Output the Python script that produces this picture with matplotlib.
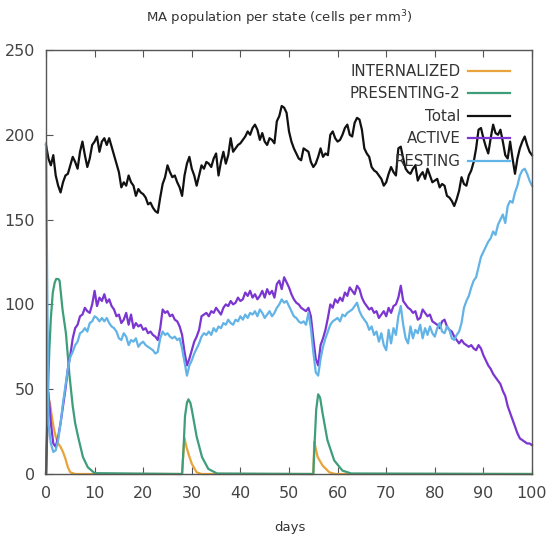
import numpy as np
import matplotlib
matplotlib.use("Agg")
import matplotlib.pyplot as plt

# -- data (0.5 day steps) -- #
days = np.arange(0, 100.5, 0.5)

total = [194, 186, 182, 188, 176, 170, 166, 172, 176, 177, 182, 187, 184, 180, 190, 196, 188, 181, 186, 194,
         196, 199, 190, 196, 198, 194, 198, 193, 188, 183, 178, 169, 172, 170, 176, 172, 170, 164, 168, 166,
         165, 163, 159, 160, 157, 155, 154, 163, 171, 175, 182, 178, 175, 176, 172, 169, 164, 176, 183, 187,
         180, 176, 170, 176, 182, 180, 184, 183, 181, 186, 189, 176, 184, 190, 183, 188, 198, 190, 192, 194,
         195, 197, 199, 202, 200, 204, 206, 203, 197, 201, 196, 194, 198, 197, 195, 208, 211, 217, 216, 213,
         202, 196, 192, 189, 186, 185, 192, 191, 190, 184, 181, 183, 187, 192, 187, 189, 188, 200, 202, 198,
         196, 197, 200, 204, 206, 200, 199, 207, 210, 209, 203, 192, 189, 187, 181, 179, 178, 176, 174, 170,
         172, 177, 181, 178, 176, 192, 193, 186, 180, 178, 177, 180, 182, 173, 176, 178, 174, 180, 176, 172,
         173, 174, 169, 171, 170, 164, 163, 161, 158, 162, 167, 175, 171, 170, 176, 179, 184, 192, 203, 204,
         198, 193, 189, 198, 206, 201, 200, 203, 196, 188, 186, 196, 186, 177, 186, 192, 196, 199, 194, 190,
         188]

active = [0, 48, 30, 18, 16, 22, 30, 40, 50, 62, 70, 80, 86, 88, 93, 94, 98, 96, 95, 100,
          108, 99, 104, 102, 106, 101, 103, 99, 97, 93, 94, 89, 91, 95, 88, 94, 86, 89, 87, 88,
          85, 86, 83, 84, 82, 81, 79, 86, 97, 95, 96, 93, 94, 91, 90, 87, 82, 72, 64, 68,
          73, 78, 81, 85, 93, 94, 95, 93, 96, 95, 98, 96, 94, 98, 100, 99, 102, 100, 101, 104,
          102, 103, 107, 105, 108, 104, 106, 103, 105, 108, 104, 109, 106, 108, 104, 112, 114, 109, 116, 113,
          110, 106, 103, 101, 100, 98, 97, 96, 98, 93, 80, 68, 64, 76, 80, 85, 92, 100, 98, 103,
          101, 104, 102, 107, 105, 110, 108, 106, 111, 109, 104, 101, 99, 97, 98, 95, 96, 92, 94, 96,
          93, 98, 95, 99, 100, 104, 111, 102, 100, 98, 97, 95, 96, 91, 92, 97, 95, 93, 94, 90,
          89, 88, 86, 90, 91, 87, 85, 84, 81, 79, 77, 79, 77, 76, 75, 76, 74, 73, 76, 74,
          70, 67, 64, 62, 59, 57, 55, 53, 49, 46, 40, 36, 32, 28, 24, 21, 20, 19, 18, 18,
          17]

resting = [195, 30, 18, 13, 14, 20, 30, 42, 52, 62, 69, 72, 76, 78, 83, 84, 86, 84, 89, 90,
           93, 92, 90, 92, 90, 92, 89, 87, 86, 84, 80, 79, 83, 81, 76, 79, 78, 80, 75, 77,
           78, 76, 75, 74, 73, 71, 72, 80, 84, 82, 83, 81, 80, 81, 79, 80, 74, 66, 58, 64,
           67, 71, 74, 77, 81, 83, 82, 84, 82, 86, 84, 87, 86, 89, 88, 91, 89, 88, 91, 90,
           93, 91, 94, 92, 95, 94, 96, 93, 97, 95, 92, 94, 96, 93, 95, 98, 100, 103, 101, 102,
           99, 96, 93, 92, 90, 89, 90, 88, 95, 86, 72, 60, 58, 68, 75, 80, 84, 88, 90, 91,
           92, 90, 94, 93, 95, 96, 97, 99, 101, 96, 93, 91, 89, 85, 87, 82, 84, 78, 83, 76,
           73, 85, 77, 86, 82, 93, 99, 88, 80, 77, 87, 80, 85, 83, 88, 80, 86, 82, 87, 83,
           81, 86, 89, 84, 83, 87, 85, 80, 79, 82, 84, 89, 98, 102, 105, 110, 114, 116, 122, 128,
           131, 134, 137, 139, 143, 141, 147, 150, 153, 148, 158, 161, 160, 166, 170, 176, 179, 180, 177, 173,
           170]

pres_days = [0, 0.3, 0.7, 1.0, 1.4, 1.8, 2.1, 2.5, 2.8, 3.4, 4.1, 4.8, 5.5, 6.0, 6.6, 7.6, 8.6, 10.0,
             28.0, 28.3, 28.6, 29.0, 29.3, 29.7, 30.0, 31.0, 32.1, 33.4, 35.2,
             55.0, 55.3, 55.6, 56.0, 56.4, 56.9, 57.9, 59.3, 61.0, 62.8, 100]
pres_vals = [0, 40, 74, 92, 107, 113, 115, 115, 114, 97, 83, 59, 40, 30, 22, 10, 4, 0.5,
             0, 15, 34, 42, 44, 42, 38, 22, 10, 3, 0.3,
             0, 20, 38, 47, 45, 36, 20, 8, 2, 0.3, 0]

int_days = [0, 0.4, 0.8, 1.2, 1.6, 2.0, 2.5, 3.0, 3.5, 4.0, 4.5, 5.0, 6.0,
            28.0, 28.3, 28.5, 28.9, 29.3, 30.0, 31.0, 32.0,
            55.0, 55.2, 55.5, 55.9, 56.9, 58.3, 59.5, 100]
int_vals = [0, 45, 42, 34, 27, 22, 18, 16, 13, 9, 4, 1, 0,
            0, 14, 21, 16, 12, 6, 1, 0,
            0, 19, 15, 10, 5, 1, 0, 0]

fig = plt.figure(figsize=(5.49, 5.42), dpi=100)
ax = fig.add_axes([46/549, 1 - 474/542, 486/549, 424/542])

lw = 1.6
ax.plot(int_days, int_vals, color='#E8A33A', lw=lw, label='INTERNALIZED', clip_on=False)
ax.plot(pres_days, pres_vals, color='#3E9E7A', lw=lw, label='PRESENTING-2', clip_on=False)
ax.plot(days, total, color='#111111', lw=lw, label='Total', clip_on=False)
ax.plot(days, active, color='#7B35D0', lw=lw, label='ACTIVE', clip_on=False)
ax.plot(days, resting, color='#62B3E6', lw=lw, label='RESTING', clip_on=False)

ax.set_xlim(0, 100)
ax.set_ylim(0, 250)
ax.set_xticks(np.arange(0, 101, 10))
ax.set_yticks(np.arange(0, 251, 50))
ax.tick_params(axis='x', direction='in', top=True, length=5, pad=9, labelsize=11.5, labelcolor='#444444', color='#555555')
ax.tick_params(axis='y', direction='in', right=False, length=5, pad=8, labelsize=11.5, labelcolor='#444444', color='#555555')
for s in ax.spines.values():
    s.set_color('#555555')
    s.set_linewidth(1.0)

leg = ax.legend(loc='upper right', bbox_to_anchor=(0.97, 0.985), frameon=False, markerfirst=False,
                fontsize=10.8, handlelength=2.8, handletextpad=0.5, labelspacing=0.5, borderpad=0)
for t in leg.get_texts():
    t.set_color('#333333')

fig.text(279/549, 1 - 18/542, 'MA population per state (cells per mm$^3$)', ha='center', va='center',
         fontsize=9.5, color='#333333')
fig.text(290/549, 1 - 527/542, 'days', ha='center', va='center', fontsize=9.5, color='#333333')

fig.savefig('out.png', dpi=100)
